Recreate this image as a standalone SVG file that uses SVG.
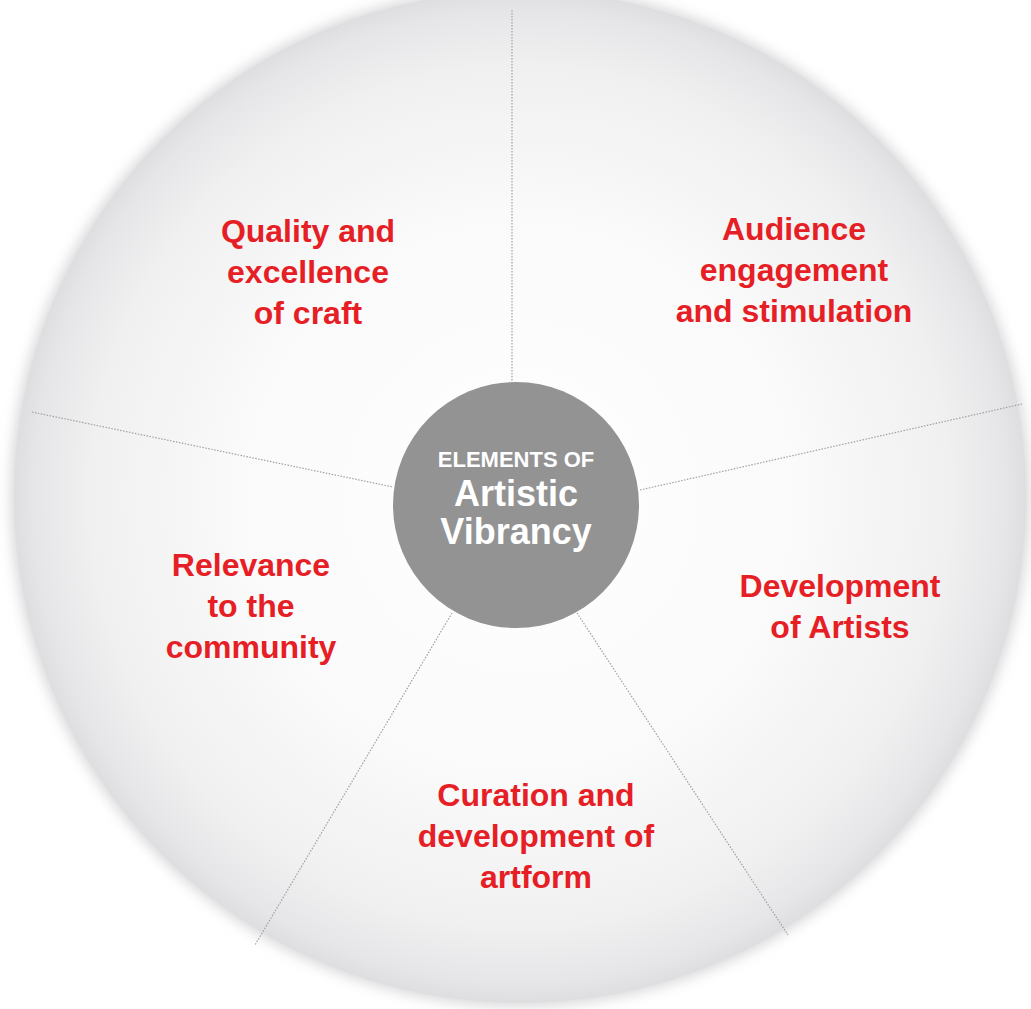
<svg xmlns="http://www.w3.org/2000/svg" width="1031" height="1009" viewBox="0 0 1031 1009">
  <defs>
    <radialGradient id="discFill" cx="50%" cy="50%" r="50%">
      <stop offset="0" stop-color="#ffffff"/>
      <stop offset="0.55" stop-color="#fafafa"/>
      <stop offset="0.85" stop-color="#f0f0f1"/>
      <stop offset="0.96" stop-color="#e6e6e8"/>
      <stop offset="1" stop-color="#dedee0"/>
    </radialGradient>
    <filter id="soft" x="-10%" y="-10%" width="120%" height="120%">
      <feGaussianBlur stdDeviation="7"/>
    </filter>
    <style>
      .label { font-family: "Liberation Sans", Arial, sans-serif; font-weight: bold; font-size: 32px; fill: #e61e25; text-anchor: middle; }
      .hub { font-family: "Liberation Sans", Arial, sans-serif; font-weight: bold; fill: #ffffff; text-anchor: middle; }
      .divider { stroke: #a0a0a2; stroke-width: 1.2; stroke-dasharray: 1.5 1.5; fill: none; }
    </style>
  </defs>

  <rect width="1031" height="1009" fill="#ffffff"/>

  <!-- background disc with soft rim -->
  <g id="disc">
    <circle cx="520" cy="497" r="509" fill="#d6d6d8" filter="url(#soft)"/>
    <circle cx="520" cy="497" r="506" fill="url(#discFill)"/>
  </g>

  <!-- dividing lines between the five segments -->
  <g id="connectors">
    <line class="divider" x1="512" y1="10" x2="512" y2="382"/>
    <line class="divider" x1="1022" y1="404" x2="640" y2="490"/>
    <line class="divider" x1="577" y1="613" x2="788" y2="935"/>
    <line class="divider" x1="452" y1="613" x2="255" y2="945"/>
    <line class="divider" x1="32" y1="412" x2="393" y2="487"/>
  </g>

  <!-- central hub -->
  <g id="hub">
    <circle cx="516" cy="505" r="123" fill="#939394"/>
    <text class="hub" x="516" y="467" font-size="22">ELEMENTS OF</text>
    <text class="hub" x="516" y="506" font-size="36">Artistic</text>
    <text class="hub" x="516" y="544" font-size="36">Vibrancy</text>
  </g>

  <g id="quality">
    <text class="label" x="308" y="242">Quality and</text>
    <text class="label" x="308" y="283">excellence</text>
    <text class="label" x="308" y="324">of craft</text>
  </g>

  <g id="audience">
    <text class="label" x="794" y="240">Audience</text>
    <text class="label" x="794" y="281">engagement</text>
    <text class="label" x="794" y="322">and stimulation</text>
  </g>

  <g id="development-artists">
    <text class="label" x="840" y="597">Development</text>
    <text class="label" x="840" y="638">of Artists</text>
  </g>

  <g id="curation">
    <text class="label" x="536" y="806">Curation and</text>
    <text class="label" x="536" y="847">development of</text>
    <text class="label" x="536" y="888">artform</text>
  </g>

  <g id="relevance">
    <text class="label" x="251" y="576">Relevance</text>
    <text class="label" x="251" y="617">to the</text>
    <text class="label" x="251" y="658">community</text>
  </g>
</svg>
